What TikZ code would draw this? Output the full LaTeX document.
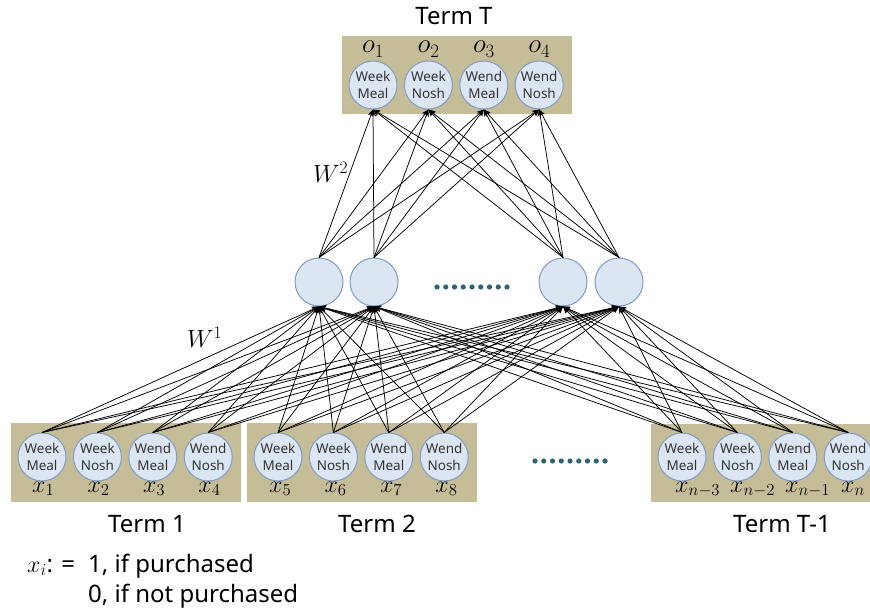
\RequirePackage{fix-cm}
\documentclass[tikz,border=0pt]{standalone}
\usepackage[no-math]{fontspec}
\setmainfont{Noto Sans}
\usetikzlibrary{arrows.meta}
\definecolor{tanbg}{HTML}{C4BD97}
\definecolor{cfill}{HTML}{DCE6F2}
\definecolor{cdraw}{HTML}{7F9CC6}
\definecolor{dotc}{HTML}{2E6373}
\begin{document}
\begin{tikzpicture}[x=1pt,y=-1pt,
  unit/.style={circle,draw=cdraw,fill=cfill,line width=1pt,minimum size=48pt,inner sep=0pt,align=center,font=\fontsize{13.5}{16.5}\selectfont,text=black!80},
  hid/.style={circle,draw=cdraw,fill=cfill,line width=1pt,minimum size=48pt,inner sep=0pt},
  panel/.style={fill=tanbg,draw=none},
  lab/.style={anchor=base west,inner sep=0pt,font=\fontsize{24}{24}\selectfont},
  olab/.style={anchor=base west,inner sep=0pt,font=\fontsize{27}{27}\selectfont},
  term/.style={anchor=base,inner sep=0pt,font=\fontsize{24}{24}\selectfont},
  wire/.style={draw=black,line width=0.75pt},
  tip/.style={-{Stealth[length=7pt,width=6pt]}},
  dot/.style={fill=dotc}
]
\useasboundingbox (0,0) rectangle (870,609);
% panels
\fill[panel] (342,36) rectangle (572,114);
\fill[panel] (11,423) rectangle (241,502);
\fill[panel] (247,423) rectangle (477,502);
\fill[panel] (651,424) rectangle (875,502);
% output units
\foreach \t/\n [count=\i] in {Week/Meal,Week/Nosh,Wend/Meal,Wend/Nosh}{
  \node[unit] (o\i) at ({373+(\i-1)*55.4},85) {\t\\\n};
  \node[olab] (lo\i) at ({373+(\i-1)*55.4-11},53) {$o_{\i}$};
  \node[unit] (a\i) at ({42+(\i-1)*55.4},457) {\t\\\n};
  \node[unit] (b\i) at ({278+(\i-1)*55.4},457) {\t\\\n};
  \node[unit] (c\i) at ({682+(\i-1)*55.4},457) {\t\\\n};
}
% input labels
\foreach \i in {1,...,4}{
  \node[lab] (la\i) at ({42+(\i-1)*55.4-10},492) {$x_{\i}$};
}
\foreach \i [evaluate=\i as \j using int(\i+4)] in {1,...,4}{
  \node[lab] (lb\i) at ({278+(\i-1)*55.4-9},492) {$x_{\j}$};
}
\node[lab] (lc1) at (675,492) {$x_{n-3}$};
\node[lab] (lc2) at (730,492) {$x_{n-2}$};
\node[lab] (lc3) at (785,492) {$x_{n-1}$};
\node[lab] (lc4) at (841,492) {$x_{n}$};
% hidden units
\node[hid] (h1) at (319,282) {};
\node[hid] (h2) at (374,282) {};
\node[hid] (h3) at (563,282) {};
\node[hid] (h4) at (619,282) {};
% dots
\foreach \k in {0,...,8}{
  \fill[dot] ({437+\k*8.75},287) circle (2.6pt);
  \fill[dot] ({535+\k*8.75},461) circle (2.6pt);
}
% connections hidden -> output
\foreach \h in {h1,h2,h3,h4}{
  \foreach \o in {o1,o2,o3,o4}{
    \draw[wire,tip] (\h.north) -- (\o.south);
  }
}
% connections input -> hidden
\foreach \h in {h1,h2,h3,h4}{
  \foreach \u in {a1,a2,a3,a4,b1,b2,b3,b4,c1,c2,c3,c4}{
    \draw[wire,tip] (\u.north) -- (\h.south);
  }
}
% labels
\node[term] (tT) at (454,25) {Term T};
\node[term] (t1) at (147,532) {Term 1};
\node[term] (t2) at (377,532) {Term 2};
\node[term] (t3) at (782,532) {Term T-1};
\node[lab,font=\fontsize{25}{25}\selectfont] (w2) at (313,183) {$W^2$};
\node[lab,font=\fontsize{25}{25}\selectfont] (w1) at (187,348) {$W^1$};
% legend
\node[lab] (lg1) at (27,572) {$x_i$: =};
\node[lab] (lg2) at (88,572) {1, if purchased};
\node[lab] (lg3) at (88,602) {0, if not purchased};
\end{tikzpicture}
\end{document}
